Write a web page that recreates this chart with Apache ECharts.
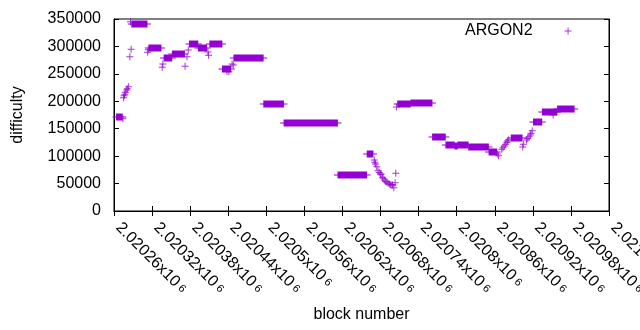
<!DOCTYPE html>
<html>
<head>
<meta charset="utf-8">
<script src="https://cdn.jsdelivr.net/npm/echarts@6/dist/echarts.min.js"></script>
<style>
  html, body { margin: 0; padding: 0; background: #fff; }
  #chart { width: 640px; height: 330px; }
</style>
</head>
<body>
<div id="chart"></div>
<script>
// ---- data ----
const xTickLabels = ['2.02026','2.02032','2.02038','2.02044','2.0205','2.02056','2.02062',
                     '2.02068','2.02074','2.0208','2.02086','2.02092','2.02098','2.02104'];
const yTickValues = [0, 50000, 100000, 150000, 200000, 250000, 300000, 350000];

// runs of consecutive blocks sharing the same difficulty
const runStart = [2020264,2020288,2020315,2020339,2020352,2020379,2020393,2020411,2020431,2020449,
                  2020496,2020528,2020613,2020659,2020707,2020728,2020762,2020783,2020797,2020802,
                  2020819,2020828,2020851,2020886,2020921,2020935,2020959];
const runEnd   = [2020273,2020312,2020334,2020351,2020371,2020392,2020406,2020430,2020444,2020495,
                  2020527,2020612,2020658,2020668,2020727,2020761,2020782,2020796,2020801,2020818,
                  2020827,2020850,2020863,2020903,2020934,2020958,2020985];
const runDiff  = [171000,340500,296600,279600,285600,303900,296600,303900,259000,278400,
                  194500,159900,65100,103600,194500,196300,134300,119800,118000,119800,
                  117200,115800,108100,133800,162800,181000,185400];

// individual blocks (transitions)
const pointBlock = [2020274,2020275,2020276,2020277,2020278,2020280,2020281,2020283,2020285,2020286,
                    2020287,2020313,2020314,2020336,2020337,2020372,2020375,2020377,2020408,2020409,
                    2020438,2020441,2020446,2020448,
                    2020670,2020671,2020672,2020674,2020676,2020678,2020680,2020681,2020683,2020684,
                    2020686,2020688,2020690,2020692,2020694,2020696,2020698,2020699,2020701,2020703,
                    2020704,2020705,
                    2020864,2020866,2020871,2020873,2020875,2020877,2020879,2020880,2020882,
                    2020904,2020905,2020910,2020912,2020914,2020916,2020917,2020919,2020952];
const pointDiff  = [168000,206600,210000,213000,216400,220600,223000,226600,281300,345000,
                    294800,289300,294000,262000,268000,264000,281000,293500,290000,284000,
                    254500,254000,268000,266000,
                    93000,89000,85700,80800,73500,70000,67500,66900,61400,59500,
                    56500,54000,52300,50500,49200,48000,47600,47400,42500,51600,
                    68700,189600,
                    104000,100800,112500,115500,118500,121500,125200,127500,130000,
                    116500,121500,129400,132000,135400,138500,141600,146400,175000];

const seriesName = 'ARGON2';
const xTitle = 'block number';
const yTitle = 'difficulty';

// ---- chart ----
const COLOR = '#9400d3';
const FONT = 'Liberation Sans';
const FS = 16;
const XMIN = 2020260, XMAX = 2021040, XSTEP = 60;
const PLUS = 'path://M3,0h1v3h3v1h-3v3h-1v-3h-3v-1h3z';

const chart = echarts.init(document.getElementById('chart'), null, { renderer: 'canvas' });

const pointData = pointBlock.map((b, i) => [b, pointDiff[i]]);
const runData = runStart.map((s, i) => [s, runEnd[i], runDiff[i]]);

const xLabelFmt = function (v) {
  const idx = Math.round((v - XMIN) / XSTEP);
  return '{a|' + xTickLabels[idx] + 'x10}{s| 6}';
};

const option = {
  backgroundColor: '#fff',
  animation: false,
  textStyle: { fontFamily: FONT },
  grid: { left: 114, right: 31, top: 19, bottom: 119, show: true, borderColor: '#000', borderWidth: 1,
          containLabel: false, outerBoundsMode: 'none' },
  legend: {
    data: [{ name: seriesName, icon: PLUS }],
    left: 465, top: 23, padding: 0,
    align: 'right',
    itemWidth: 7, itemHeight: 7,
    textStyle: { fontSize: FS, fontFamily: FONT, color: '#000', padding: [0, 27, 0, 0] }
  },
  xAxis: [{
    type: 'value', min: XMIN, max: XMAX, interval: XSTEP,
    name: xTitle, nameLocation: 'middle', nameGap: 96,
    nameTextStyle: { fontSize: FS, color: '#000', fontFamily: FONT },
    axisLine: { show: true, lineStyle: { color: '#000' } },
    axisTick: { show: true, inside: true, length: 5, lineStyle: { color: '#000' } },
    splitLine: { show: false },
    axisLabel: {
      rotate: -45, margin: 10, formatter: xLabelFmt, color: '#000', hideOverlap: false,
      rich: {
        a: { fontSize: FS, fontFamily: FONT, color: '#000', padding: [0, 0, 0, 6] },
        s: { fontSize: 11, fontFamily: FONT, color: '#000' }
      }
    }
  }, {
    type: 'value', position: 'top', min: XMIN, max: XMAX, interval: XSTEP,
    axisLine: { show: true, lineStyle: { color: '#000' } },
    axisTick: { show: true, inside: true, length: 5, lineStyle: { color: '#000' } },
    axisLabel: { show: false }, splitLine: { show: false }
  }],
  yAxis: [{
    type: 'value', min: yTickValues[0], max: yTickValues[yTickValues.length - 1], interval: 50000,
    name: yTitle, nameLocation: 'middle', nameGap: 88, nameRotate: 90,
    nameTextStyle: { fontSize: FS, color: '#000', fontFamily: FONT },
    axisLine: { show: true, lineStyle: { color: '#000' } },
    axisTick: { show: true, inside: true, length: 5, lineStyle: { color: '#000' } },
    splitLine: { show: false },
    axisLabel: { margin: 13, fontSize: FS, color: '#000', fontFamily: FONT,
                 formatter: function (v) { return String(v); } }
  }, {
    type: 'value', position: 'right', min: yTickValues[0], max: yTickValues[yTickValues.length - 1], interval: 50000,
    axisLine: { show: true, lineStyle: { color: '#000' } },
    axisTick: { show: true, inside: true, length: 5, lineStyle: { color: '#000' } },
    axisLabel: { show: false }, splitLine: { show: false }
  }],
  series: [{
    name: seriesName,
    type: 'scatter',
    symbol: PLUS,
    symbolSize: 7,
    itemStyle: { color: COLOR },
    data: pointData,
    z: 3
  }, {
    name: seriesName,
    type: 'custom',
    encode: { x: [0, 1], y: 2 },
    data: runData,
    z: 2,
    renderItem: function (params, api) {
      const v = api.value(2);
      const a = api.coord([api.value(0), v]);
      const b = api.coord([api.value(1), v]);
      const h = 7, arm = 4;
      const cy = Math.round(a[1]);
      return {
        type: 'group',
        children: [
          { type: 'rect', shape: { x: a[0] - 0.5, y: cy - h / 2, width: b[0] - a[0] + 1, height: h }, style: { fill: COLOR } },
          { type: 'rect', shape: { x: a[0] - arm, y: cy - 0.5, width: 2 * arm, height: 1 }, style: { fill: COLOR } },
          { type: 'rect', shape: { x: b[0] - arm, y: cy - 0.5, width: 2 * arm, height: 1 }, style: { fill: COLOR } }
        ]
      };
    }
  }]
};

chart.setOption(option);
</script>
</body>
</html>
